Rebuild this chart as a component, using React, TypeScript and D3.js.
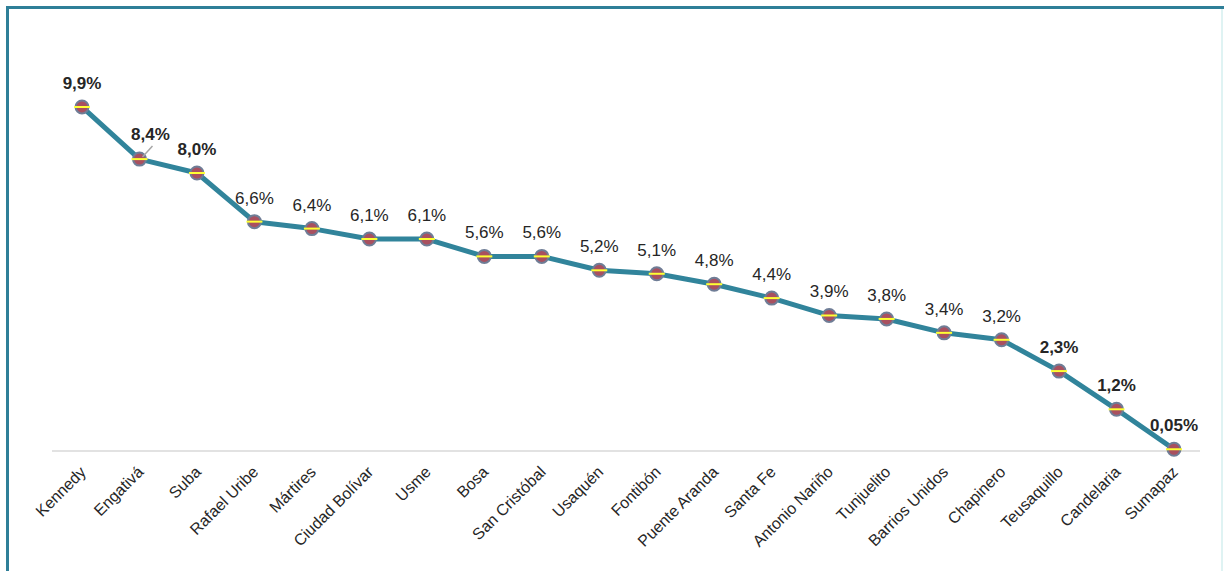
import { useEffect, useRef } from "react";
import * as d3 from "d3";

const localidades = [
	"Kennedy", "Engativá", "Suba", "Rafael Uribe", "Mártires", "Ciudad Bolívar",
	"Usme", "Bosa", "San Cristóbal", "Usaquén", "Fontibón", "Puente Aranda",
	"Santa Fe", "Antonio Nariño", "Tunjuelito", "Barrios Unidos", "Chapinero",
	"Teusaquillo", "Candelaria", "Sumapaz",
];
const porcentajes = [9.9, 8.4, 8.0, 6.6, 6.4, 6.1, 6.1, 5.6, 5.6, 5.2, 5.1, 4.8, 4.4, 3.9, 3.8, 3.4, 3.2, 2.3, 1.2, 0.05];
const etiquetas = ["9,9%", "8,4%", "8,0%", "6,6%", "6,4%", "6,1%", "6,1%", "5,6%", "5,6%", "5,2%", "5,1%", "4,8%", "4,4%", "3,9%", "3,8%", "3,4%", "3,2%", "2,3%", "1,2%", "0,05%"];
const destacadas = ["Kennedy", "Engativá", "Suba", "Teusaquillo", "Candelaria", "Sumapaz"];

const W = 1225;
const H = 571;

export default function App() {
	const svgRef = useRef<SVGSVGElement>(null);

	useEffect(() => {
		if (!svgRef.current) return;
		const svg = d3.select(svgRef.current);
		svg.selectAll("*").remove();

		const data = localidades.map((name, i) => ({ name, value: porcentajes[i], label: etiquetas[i] }));

		const x = d3.scalePoint<string>().domain(localidades).range([82, 1174]);
		const y = d3.scaleLinear().domain([0, 10]).range([451, 451 - 347.5]);

		// frame
		svg.append("rect").attr("width", W).attr("height", H).attr("fill", "#fff");
		svg.append("line").attr("x1", 1222).attr("x2", 1222).attr("y1", 7).attr("y2", H)
			.attr("stroke", "#dff3f3").attr("stroke-width", 2);
		svg.append("line").attr("x1", 6).attr("x2", 1224).attr("y1", 7.5).attr("y2", 7.5)
			.attr("stroke", "#2f7f98").attr("stroke-width", 3);
		svg.append("line").attr("x1", 7.5).attr("x2", 7.5).attr("y1", 6).attr("y2", H)
			.attr("stroke", "#2f7f98").attr("stroke-width", 3);

		// baseline
		svg.append("line").attr("x1", 52).attr("x2", 1200).attr("y1", y(0)).attr("y2", y(0))
			.attr("stroke", "#d9d9d9").attr("stroke-width", 1.5);

		// category labels
		svg.append("g").selectAll("text").data(data).enter().append("text")
			.attr("transform", d => `translate(${(x(d.name) || 0) + 5},${y(0) + 22}) rotate(-45)`)
			.attr("text-anchor", "end")
			.attr("font-family", "Liberation Sans, Arial, sans-serif")
			.attr("font-size", 16)
			.attr("fill", "#262626")
			.text(d => d.name);

		// line
		const line = d3.line<typeof data[0]>()
			.x(d => x(d.name) || 0)
			.y(d => y(d.value));
		svg.append("path").datum(data)
			.attr("d", line)
			.attr("fill", "none")
			.attr("stroke", "#31849b")
			.attr("stroke-width", 5)
			.attr("stroke-linejoin", "round");

		// markers
		const m = svg.append("g").selectAll("g").data(data).enter().append("g")
			.attr("transform", d => `translate(${x(d.name)},${y(d.value)})`);
		m.append("circle").attr("r", 6.5)
			.attr("fill", "#a9505f")
			.attr("stroke", "#6f7d96")
			.attr("stroke-width", 2);
		m.append("line").attr("x1", -8).attr("x2", 8).attr("y1", 0).attr("y2", 0)
			.attr("stroke", "#ffff33").attr("stroke-width", 2);

		// leader line for Engativá
		const ex = x("Engativá") || 0;
		const ey = y(8.4);
		svg.append("line").attr("x1", ex + 13).attr("x2", ex + 3).attr("y1", ey - 13).attr("y2", ey - 2)
			.attr("stroke", "#a6a6a6").attr("stroke-width", 1.5);

		// value labels
		svg.append("g").selectAll("text").data(data).enter().append("text")
			.attr("x", d => (x(d.name) || 0) + (d.name === "Engativá" ? 11 : 0))
			.attr("y", d => y(d.value) - (d.name === "Engativá" ? 19 : 18))
			.attr("text-anchor", "middle")
			.attr("font-family", "Liberation Sans, Arial, sans-serif")
			.attr("font-size", 17)
			.attr("font-weight", d => destacadas.includes(d.name) ? "bold" : "normal")
			.attr("fill", "#262626")
			.text(d => d.label);
	}, []);

	return (
		<svg
			ref={svgRef}
			width={W}
			height={H}
			style={{ position: "absolute", left: 0, top: 0, display: "block" }}
		/>
	);
}
